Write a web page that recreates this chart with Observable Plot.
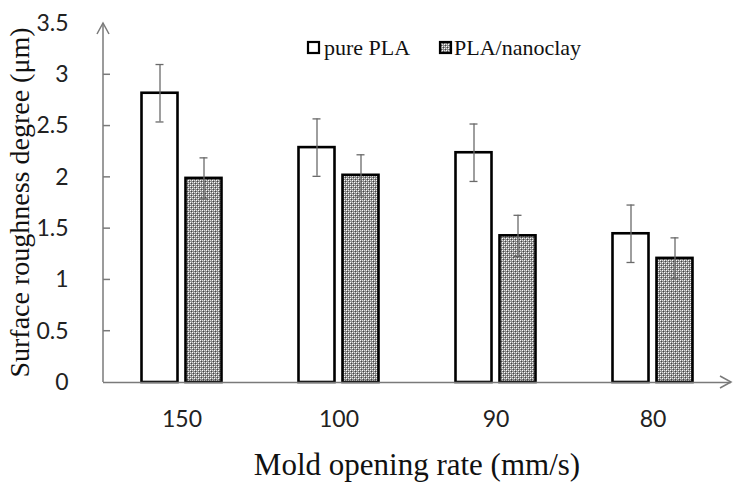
<!DOCTYPE html>
<html>
<head>
<meta charset="utf-8">
<script src="https://cdn.jsdelivr.net/npm/d3@7"></script>
<script src="https://cdn.jsdelivr.net/npm/@observablehq/plot@0.6"></script>
<style>
  html, body { margin: 0; padding: 0; background: #fff; }
</style>
</head>
<body>
<div id="chart"></div>
<script>
// ---- data ----
const categories = ["150", "100", "90", "80"];
const seriesNames = ["pure PLA", "PLA/nanoclay"];
const purePLA = [2.82, 2.29, 2.24, 1.45];
const pureErr = [0.28, 0.28, 0.28, 0.28];
const nanoclay = [1.99, 2.02, 1.43, 1.21];
const nanoErr = [0.20, 0.20, 0.20, 0.20];
const yTicks = [0, 0.5, 1, 1.5, 2, 2.5, 3, 3.5];
const xTitle = "Mold opening rate (mm/s)";
const yTitle = "Surface roughness degree (μm)";

const rows = [];
categories.forEach((c, i) => {
  rows.push({cat: c, series: seriesNames[0], value: purePLA[i], err: pureErr[i]});
  rows.push({cat: c, series: seriesNames[1], value: nanoclay[i], err: nanoErr[i]});
});
const pureRows = rows.filter(d => d.series === seriesNames[0]);
const nanoRows = rows.filter(d => d.series === seriesNames[1]);

// ---- layout ----
const W = 742, H = 489;
const mL = 103, mR = 11, mT = 23, mB = 107;
const bw = (W - mL - mR) / categories.length;
const barW = 36, gap = 8;
const off = gap / 2 + barW / 2;       // bar centre offset from band centre
const capHalf = 4;
const serif = "'Liberation Serif', 'Times New Roman', serif";
const sans = "Lato, 'Open Sans', sans-serif";
const axisColor = "#7a7a7a";
const errColor = "#6a6a6a";

const plot = Plot.plot({
  width: W, height: H,
  marginLeft: mL, marginRight: mR, marginTop: mT, marginBottom: mB,
  style: {fontFamily: sans, fontSize: "23px", color: "#222", background: "#fff"},
  x: {type: "band", domain: categories, padding: 0, label: null},
  y: {domain: [0, 3.5], label: null},
  marks: [
    Plot.axisY({ticks: yTicks, tickSize: 0, tickPadding: 35, tickFormat: d => String(d), label: null,
      fill: "#222", fontSize: 23}),
    Plot.axisX({tickSize: 0, tickPadding: 28, label: null, fill: "#222", fontSize: 23}),
    Plot.barY(pureRows, {x: "cat", y: "value", fill: "#fff", stroke: "#000", strokeWidth: 2.6,
      insetLeft: bw / 2 - off - barW / 2, insetRight: bw / 2 + off - barW / 2}),
    Plot.barY(nanoRows, {x: "cat", y: "value", fill: "url(#checker)", stroke: "#000", strokeWidth: 2.6,
      insetLeft: bw / 2 + off - barW / 2, insetRight: bw / 2 - off - barW / 2}),
    Plot.ruleY([0], {stroke: axisColor, strokeWidth: 1.5}),
    // error bars
    Plot.ruleX(pureRows, {x: "cat", y1: d => d.value - d.err, y2: d => d.value + d.err, dx: -off, stroke: errColor, strokeWidth: 1.3}),
    Plot.ruleX(nanoRows, {x: "cat", y1: d => d.value - d.err, y2: d => d.value + d.err, dx: off, stroke: errColor, strokeWidth: 1.3}),
    Plot.tickY(pureRows, {x: "cat", y: d => d.value + d.err, stroke: errColor, strokeWidth: 1.3,
      insetLeft: bw / 2 - off - capHalf, insetRight: bw / 2 + off - capHalf}),
    Plot.tickY(pureRows, {x: "cat", y: d => d.value - d.err, stroke: errColor, strokeWidth: 1.3,
      insetLeft: bw / 2 - off - capHalf, insetRight: bw / 2 + off - capHalf}),
    Plot.tickY(nanoRows, {x: "cat", y: d => d.value + d.err, stroke: errColor, strokeWidth: 1.3,
      insetLeft: bw / 2 + off - capHalf, insetRight: bw / 2 - off - capHalf}),
    Plot.tickY(nanoRows, {x: "cat", y: d => d.value - d.err, stroke: errColor, strokeWidth: 1.3,
      insetLeft: bw / 2 + off - capHalf, insetRight: bw / 2 - off - capHalf})
  ]
});

document.getElementById("chart").appendChild(plot);

// ---- decorations: pattern, axis arrows, inside ticks, legend, titles ----
const svg = d3.select(plot);
const defs = svg.insert("defs", ":first-child");
const pat = defs.append("pattern").attr("id", "checker")
  .attr("width", 4).attr("height", 4).attr("patternUnits", "userSpaceOnUse");
pat.append("rect").attr("width", 4).attr("height", 4).attr("fill", "#8c8c8c");
[[0, 0], [2, 2]].forEach(([px, py]) =>
  pat.append("rect").attr("x", px).attr("y", py).attr("width", 1).attr("height", 1).attr("fill", "#ffffff"));
[[2, 0], [0, 2]].forEach(([px, py]) =>
  pat.append("rect").attr("x", px).attr("y", py).attr("width", 1).attr("height", 1).attr("fill", "#e0e0e0"));
[[1, 1], [3, 3]].forEach(([px, py]) =>
  pat.append("rect").attr("x", px).attr("y", py).attr("width", 1).attr("height", 1).attr("fill", "#444444"));

const ys = plot.scale("y");
const xs = plot.scale("x");
const y0 = ys.apply(0), yTop = ys.apply(3.5);
const xLeft = mL, xRight = xs.range[1];

const g = svg.append("g").attr("fill", "none").attr("stroke", axisColor).attr("stroke-width", 1.5);
// y axis with arrow
g.append("line").attr("x1", xLeft).attr("x2", xLeft).attr("y1", y0).attr("y2", yTop);
g.append("path").attr("d", `M${xLeft - 6},${yTop + 11}L${xLeft},${yTop}L${xLeft + 6},${yTop + 11}`);
// x arrow
g.append("path").attr("d", `M${xRight - 11},${y0 - 6}L${xRight},${y0}L${xRight - 11},${y0 + 6}`);
// inside ticks
yTicks.filter(t => t > 0 && t < 3.5).forEach(t => {
  g.append("line").attr("x1", xLeft).attr("x2", xLeft + 7).attr("y1", ys.apply(t)).attr("y2", ys.apply(t));
});

// legend
const lg = svg.append("g").style("font-family", serif).style("font-size", "22px").attr("text-anchor", "start");
lg.append("rect").attr("x", 308).attr("y", 42).attr("width", 11).attr("height", 11)
  .attr("fill", "#fff").attr("stroke", "#000").attr("stroke-width", 2.2);
lg.append("text").attr("x", 324).attr("y", 55).attr("fill", "#111").text(seriesNames[0]);
lg.append("rect").attr("x", 440).attr("y", 42).attr("width", 11).attr("height", 11)
  .attr("fill", "url(#checker)").attr("stroke", "#000").attr("stroke-width", 2.2);
lg.append("text").attr("x", 454).attr("y", 55).attr("fill", "#111").text(seriesNames[1]);

// axis titles
svg.append("text").attr("x", (xLeft + xRight) / 2).attr("y", 475)
  .attr("text-anchor", "middle").style("font-family", serif).style("font-size", "31px")
  .attr("fill", "#111").text(xTitle);
svg.append("text").attr("transform", `translate(29,${(y0 + yTop) / 2}) rotate(-90)`)
  .attr("text-anchor", "middle").style("font-family", serif).style("font-size", "28px")
  .attr("fill", "#111").text(yTitle);
</script>
</body>
</html>
